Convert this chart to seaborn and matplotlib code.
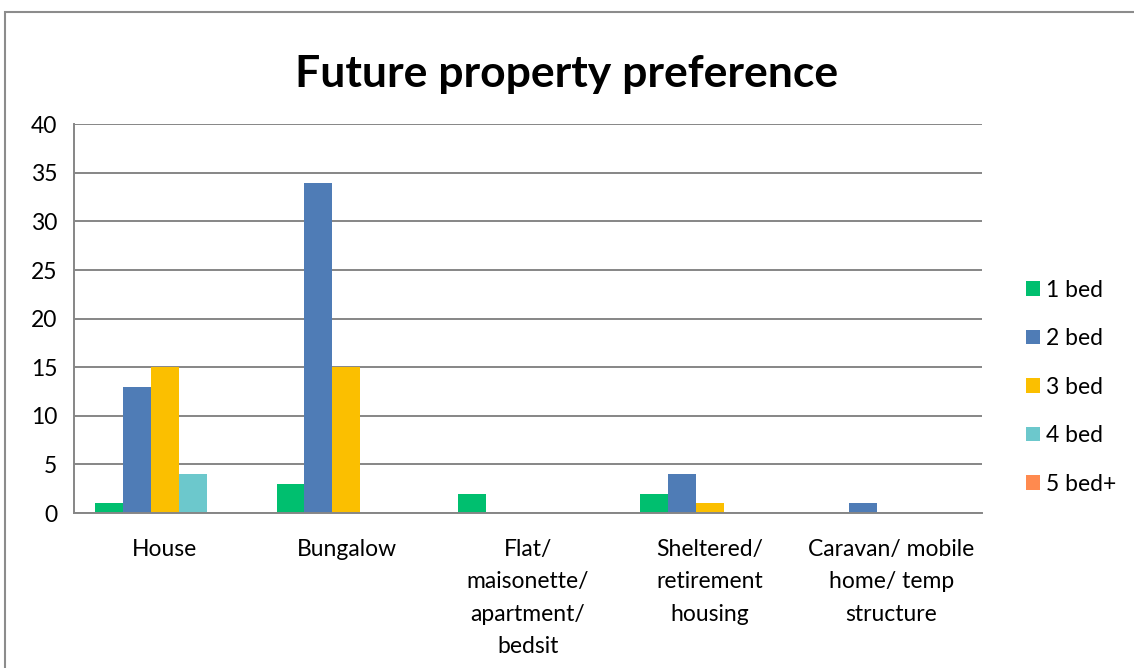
import numpy as np
import pandas as pd
import matplotlib.pyplot as plt
import seaborn as sns
from matplotlib.patches import Rectangle

# chart data
categories = ["House", "Bungalow", "Flat/\nmaisonette/\napartment/\nbedsit",
              "Sheltered/\nretirement\nhousing", "Caravan/ mobile\nhome/ temp\nstructure"]
bed_1 = [1, 3, 2, 2, 0]
bed_2 = [13, 34, 0, 4, 1]
bed_3 = [15, 15, 0, 1, 0]
bed_4 = [4, 0, 0, 0, 0]
bed_5 = [0, 0, 0, 0, 0]
series_names = ["1 bed", "2 bed", "3 bed", "4 bed", "5 bed+"]
colors = ["#00BF6F", "#4F7CB6", "#FBBF00", "#6CC8CC", "#FF8A4F"]

# long format for seaborn
rows = []
for name, vals in zip(series_names, [bed_1, bed_2, bed_3, bed_4, bed_5]):
    for cat, v in zip(categories, vals):
        rows.append({"category": cat, "series": name, "count": v})
df = pd.DataFrame(rows)

sns.set_style("white")
plt.rcParams["font.family"] = ["Lato", "DejaVu Sans"]
plt.rcParams["text.color"] = "black"
plt.rcParams["xtick.color"] = "black"
plt.rcParams["ytick.color"] = "black"

fig = plt.figure(figsize=(11.34, 6.68), dpi=100)
ax = fig.add_axes([0.0653, 0.232, 0.8007, 0.582])

sns.barplot(data=df, x="category", y="count", hue="series", palette=colors,
            width=0.77, saturation=1, order=categories, hue_order=series_names,
            linewidth=0, ax=ax, legend=True)

grid_col = "#868686"
ax.set_ylim(0, 40)
ax.set_xlim(-0.5, len(categories) - 0.5)
ax.set_yticks(np.arange(0, 41, 5))
ax.yaxis.grid(True, color=grid_col, linewidth=1.4)
ax.set_axisbelow(True)
ax.set_xlabel("")
ax.set_ylabel("")
for s in ["top", "right"]:
    ax.spines[s].set_visible(False)
for s in ["left", "bottom"]:
    ax.spines[s].set_color(grid_col)
    ax.spines[s].set_linewidth(1.4)

# category boundary ticks
ax.set_xticks(np.arange(-0.5, len(categories), 1), minor=True)
ax.tick_params(axis="x", which="major", length=0, pad=19, labelsize=16.5)
ax.tick_params(axis="x", which="minor", length=7, width=1.4, color=grid_col, direction="out")
ax.tick_params(axis="y", length=7, width=1.4, color=grid_col, labelsize=16.5, pad=5)
for lbl in ax.get_xticklabels():
    lbl.set_linespacing(1.65)
    lbl.set_verticalalignment("top")

leg = ax.legend(loc="center left", bbox_to_anchor=(1.026, 0.324), frameon=False,
                fontsize=16.5, handlelength=0.6, handleheight=0.6, handletextpad=0.25,
                labelspacing=1.2)

fig.text(0.5, 0.889, "Future property preference", ha="center", va="center",
         fontsize=32, fontweight="bold")

# chart border
fig.patches.append(Rectangle((5 / 1134, -0.1), 1.2, 1 - 12 / 668 + 0.1,
                             transform=fig.transFigure, fill=False,
                             edgecolor="#8C8C8C", linewidth=1.5))

fig.savefig("out.png", dpi=100)
